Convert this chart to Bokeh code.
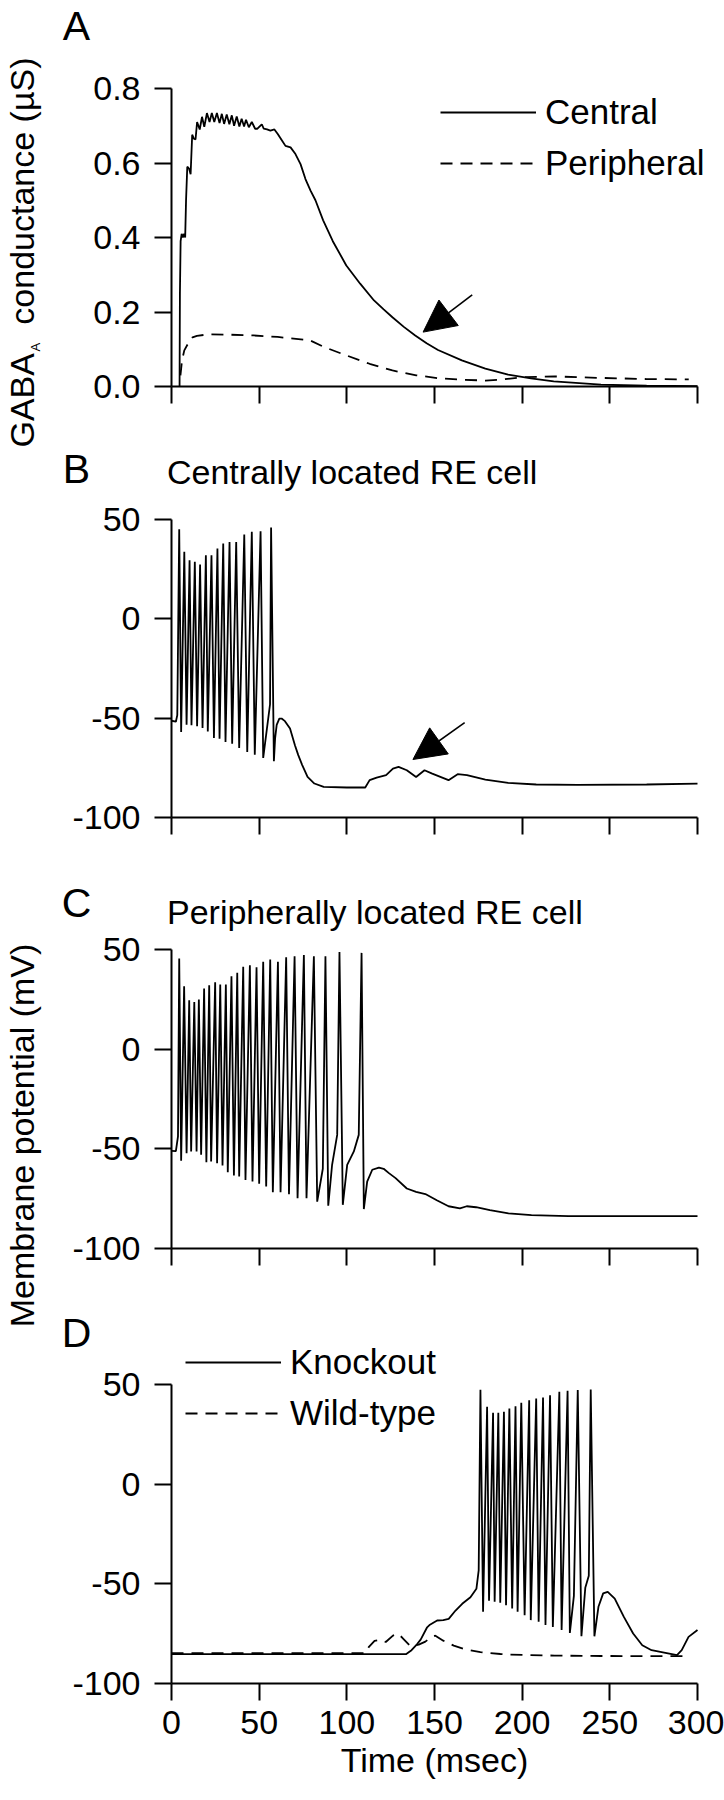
import math
from bokeh.plotting import figure
from bokeh.models import (Range1d, FixedTicker, PrintfTickFormatter, Label, Arrow,
                          NormalHead, Legend, LegendItem)
from bokeh.layouts import column, row
from bokeh.embed import file_html
from bokeh.resources import INLINE

FONT = "Liberation Sans"

# ---------------- data ----------------
time_ticks = [0, 50, 100, 150, 200, 250, 300]
g_ticks = [0.0, 0.2, 0.4, 0.6, 0.8]
v_ticks = [-100, -50, 0, 50]
v_tick_labels = ["-100", "-50", "0", "50"]

# Panel A: GABA_A conductance (uS)
a_central_t = [4.6, 4.8, 5.2, 5.8, 6.5, 7.2, 7.8, 8.3, 9.0, 10.0, 10.9, 11.8, 12.8, 13.7,
               14.6, 16.1, 17.4, 18.7, 20.2, 21.7, 23.0, 24.4, 25.9, 27.4, 28.7, 30.0,
               31.5, 33.0, 34.4, 35.7, 37.2, 38.7, 40.0, 41.4, 42.5, 44.1, 45.8, 47.7,
               49.0, 51.5, 52.6, 54.5, 56.4, 58.7, 60.6, 63.1, 65.0, 67.9, 70.7, 73.6,
               76.4, 79.3, 82.1, 86.5, 92.0, 99.7, 107.6, 115.5, 121.0, 126.0, 132.5,
               139.0, 145.5, 152.0, 165.6, 179.0, 192.0, 205.0, 218.0, 245.0, 271.0, 300.0]
a_central_g = [0.0, 0.25, 0.39, 0.41, 0.40, 0.41, 0.40, 0.50, 0.59, 0.585, 0.57, 0.676,
               0.665, 0.663, 0.71, 0.69, 0.724, 0.697, 0.734, 0.71, 0.734, 0.71, 0.734,
               0.707, 0.732, 0.705, 0.73, 0.704, 0.728, 0.70, 0.725, 0.698, 0.719, 0.698,
               0.716, 0.696, 0.71, 0.692, 0.692, 0.704, 0.692, 0.69, 0.687, 0.69, 0.678,
               0.66, 0.646, 0.642, 0.624, 0.597, 0.557, 0.526, 0.50, 0.446, 0.39, 0.325,
               0.276, 0.231, 0.207, 0.186, 0.16, 0.137, 0.116, 0.098, 0.07, 0.048, 0.032,
               0.022, 0.014, 0.005, 0.002, 0.001]
a_periph_t = [5.1, 6.0, 7.3, 10.0, 12.0, 14.5, 21.0, 34.0, 47.0, 60.5, 71.0, 79.0, 87.0,
              100.0, 113.0, 126.0, 139.6, 152.7, 166.0, 179.0, 187.0, 200.0, 218.5, 245.0,
              271.0, 295.0]
a_periph_g = [0.03, 0.07, 0.097, 0.12, 0.132, 0.136, 0.14, 0.139, 0.137, 0.133, 0.128,
              0.124, 0.106, 0.083, 0.061, 0.043, 0.03, 0.022, 0.018, 0.016, 0.018, 0.025,
              0.027, 0.023, 0.02, 0.019]

# Panel B: centrally located RE cell (mV)
b_pre_t = [0.0, 2.5, 3.3]
b_pre_v = [-51.3, -51.8, -48.5]
b_peak_t = [4.4, 7.3, 10.3, 13.3, 16.3, 19.6, 22.8, 26.2, 29.5, 33.1, 36.9, 41.5, 45.8,
            50.8, 56.8]
b_peak_v = [45.1, 33.7, 29.5, 28.7, 27.4, 32.0, 32.0, 35.4, 37.9, 38.7, 38.7, 42.4, 43.8,
            44.1, 46.0]
b_trough_t = [5.5, 8.6, 11.4, 14.6, 17.7, 20.7, 24.2, 27.4, 30.8, 34.6, 38.6, 43.2, 47.5,
              52.3, 58.4]
b_trough_v = [-56.9, -53.3, -53.6, -54.0, -55.0, -56.7, -60.0, -60.4, -62.0, -62.9, -65.0,
              -67.0, -68.4, -70.0, -71.7]
b_ramp_t = [56.2]
b_ramp_v = [-43.0]
b_post_t = [59.1, 60.0, 61.5, 62.8, 64.7, 67.6, 70.4, 72.3, 74.5, 77.6, 81.5, 86.8, 100.0,
            110.5, 113.0, 117.0, 122.4, 126.3, 129.5, 134.2, 139.5, 144.3, 148.7, 158.0,
            163.2, 168.5, 179.0, 192.0, 208.0, 231.7, 271.0, 300.0]
b_post_v = [-60.0, -53.4, -50.2, -50.2, -51.5, -55.2, -63.6, -68.6, -73.5, -79.6, -82.9,
            -84.6, -84.9, -84.9, -81.2, -79.9, -78.7, -75.4, -74.5, -76.2, -79.6, -76.2,
            -77.9, -81.2, -78.2, -78.7, -80.9, -82.6, -83.4, -83.6, -83.4, -82.9]

# Panel C: peripherally located RE cell (mV)
c_pre_t = [0.0, 2.5, 3.7]
c_pre_v = [-51.0, -51.2, -43.8]
c_peak_t = [4.4, 7.2, 10.1, 13.0, 15.6, 18.6, 21.5, 24.9, 27.8, 31.0, 34.2, 37.5, 40.9,
            44.7, 48.5, 52.3, 56.3, 60.7, 65.4, 70.2, 75.5, 81.2, 87.8, 95.8, 108.4]
c_peak_v = [45.5, 31.6, 24.5, 23.7, 24.9, 30.4, 32.1, 33.6, 32.4, 32.4, 36.6, 38.3, 41.3,
            42.1, 41.1, 43.8, 45.0, 43.8, 46.1, 46.6, 47.2, 46.6, 46.6, 48.8, 48.3]
c_trough_t = [5.5, 8.6, 11.2, 14.3, 16.9, 19.9, 22.6, 26.0, 29.1, 32.1, 35.6, 38.6, 42.2,
              46.2, 50.0, 54.0, 57.8, 62.2, 67.0, 71.9, 77.0, 83.1, 89.4, 97.7, 109.7]
c_trough_v = [-56.0, -52.2, -51.3, -51.3, -53.0, -56.7, -56.4, -57.2, -58.4, -61.7, -63.4,
              -63.9, -65.6, -66.4, -67.5, -68.9, -71.8, -71.8, -72.8, -74.8, -74.8, -76.5,
              -78.5, -78.1, -80.2]
c_ramp_t = [86.3, 91.6, 94.5, 100.2, 104.0, 106.8]
c_ramp_v = [-60.0, -58.0, -43.0, -58.0, -51.3, -43.0]
c_post_t = [111.6, 114.5, 118.3, 121.0, 124.0, 127.8, 134.2, 139.5, 144.8, 151.3, 158.0,
            164.5, 168.4, 173.7, 181.6, 192.2, 205.3, 226.4, 300.0]
c_post_v = [-66.4, -60.5, -59.4, -60.0, -62.2, -64.7, -69.9, -71.6, -72.7, -75.8, -78.8,
            -79.9, -78.8, -79.3, -80.8, -82.4, -83.3, -83.8, -83.8]

# Panel D: knockout vs wild-type (mV)
d_ko_pre_t = [0.0, 133.7, 136.9, 140.1, 142.1, 145.8, 147.4, 151.5, 155.0, 158.1, 162.0,
              165.8, 170.5, 173.9, 175.2]
d_ko_pre_v = [-85.3, -85.3, -83.3, -80.2, -78.0, -71.8, -70.5, -68.4, -68.2, -67.6, -63.4,
              -60.0, -56.7, -52.5, -43.3]
d_ko_peak_t = [176.2, 180.0, 183.4, 186.4, 189.6, 192.7, 196.2, 199.5, 204.0, 208.0, 211.9,
               215.9, 221.2, 225.9, 231.7, 239.1]
d_ko_peak_v = [47.3, 38.8, 35.8, 35.8, 36.3, 38.0, 39.1, 40.8, 42.1, 43.0, 43.5, 44.6, 46.3,
               46.8, 47.2, 47.5]
d_ko_trough_t = [177.7, 181.1, 184.3, 187.5, 190.8, 194.3, 197.4, 201.4, 204.9, 209.4,
                 213.3, 217.5, 222.5, 227.2, 233.8, 241.2]
d_ko_trough_v = [-64.0, -58.5, -59.0, -59.5, -60.7, -62.4, -64.0, -65.7, -68.2, -69.0,
                 -70.7, -71.6, -73.2, -74.6, -76.3, -76.3]
d_ko_ramp_t = [229.5, 236.0, 238.0]
d_ko_ramp_v = [-56.0, -52.0, -46.0]
d_ko_post_t = [243.5, 246.2, 248.8, 252.8, 258.0, 263.3, 268.5, 273.8, 281.7, 288.3, 291.0,
               294.9, 300.0]
d_ko_post_v = [-61.5, -54.8, -54.0, -57.4, -66.6, -74.9, -80.8, -83.3, -84.6, -85.8, -83.3,
               -76.6, -73.2]
d_wt_t = [0.0, 110.5, 112.6, 115.8, 119.5, 122.2, 126.3, 129.0, 131.4, 136.3, 141.0, 144.8,
          148.0, 150.5, 155.0, 161.0, 166.7, 176.2, 187.6, 193.3, 218.5, 244.9, 294.9]
d_wt_v = [-84.8, -84.8, -81.6, -78.6, -78.0, -79.2, -76.0, -75.0, -76.8, -81.3, -80.5,
          -79.0, -76.8, -76.0, -78.5, -81.0, -82.7, -84.3, -85.2, -85.5, -86.0, -86.2, -86.3]

# arrows (data coords of tail and tip)
a_arrow = [171.5, 0.246, 143.5, 0.146]
b_arrow = [167.2, -52.2, 137.7, -70.8]


def trace(*pairs):
    pts = []
    for ts, vs in pairs:
        pts += list(zip(ts, vs))
    pts.sort(key=lambda q: q[0])
    return [q[0] for q in pts], [q[1] for q in pts]


# ---------------- layout geometry (page pixels) ----------------
STRIP_W = 48
PAGE_W = 724
PANEL_W = PAGE_W - STRIP_W
AX_L, AX_R = 171, 697          # pixel position of t=0 and t=300
LINE_W = 1.8
DASH = "12 8"
TICK_FONT = "34px"
LEG_FONT = "35px"
ROW_H, ROW_GAP = 42, 9
SX = (AX_R - AX_L) / 300.0


def make_panel(fig_top, fig_bot, dat_top, dat_bot, y0, y1, ticks, x_labels):
    sy = (dat_bot - dat_top) / (y1 - y0)
    yr = Range1d(y0 - (fig_bot - dat_bot) / sy, y1 + (dat_top - fig_top) / sy)
    xr = Range1d(0 - (AX_L - STRIP_W) / SX, 300 + (PAGE_W - AX_R) / SX)
    p = figure(width=PANEL_W, height=fig_bot - fig_top, x_range=xr, y_range=yr,
               output_backend="svg", toolbar_location=None, min_border=0)
    p.grid.visible = False
    p.outline_line_color = None
    p.background_fill_color = "white"
    p.border_fill_color = "white"
    for ax in (p.xaxis[0], p.yaxis[0]):
        ax.axis_line_width = 2
        ax.axis_line_color = "black"
        ax.major_tick_line_width = 2
        ax.major_tick_line_color = "black"
        ax.major_tick_in = 0
        ax.major_tick_out = 17
        ax.minor_tick_line_color = None
        ax.major_label_text_font = FONT
        ax.major_label_text_font_size = TICK_FONT
        ax.major_label_text_color = "black"
    p.xaxis.fixed_location = y0
    p.xaxis.bounds = (0, 300)
    p.xaxis.ticker = FixedTicker(ticks=time_ticks)
    p.yaxis.fixed_location = 0
    p.yaxis.bounds = (y0, y1)
    p.yaxis.ticker = FixedTicker(ticks=ticks)
    p.yaxis.major_label_standoff = 14
    if x_labels:
        p.xaxis.major_label_standoff = 10
        p.xaxis.axis_label = "Time (msec)"
        p.xaxis.axis_label_text_font = FONT
        p.xaxis.axis_label_text_font_size = TICK_FONT
        p.xaxis.axis_label_text_font_style = "normal"
        p.xaxis.axis_label_text_color = "black"
        p.xaxis.axis_label_standoff = 4
    else:
        p.xaxis.major_label_overrides = {t: "" for t in time_ticks}
        p.xaxis.major_label_text_font_size = "0px"
    return p


def letter(p, txt, y):
    p.add_layout(Label(x=(76 - AX_L) / SX, y=y, text=txt, text_font=FONT,
                       text_font_size="41px", text_align="center",
                       text_baseline="middle", text_color="black"))


def subtitle(p, txt, y):
    p.add_layout(Label(x=(166.5 - AX_L) / SX, y=y, text=txt, text_font=FONT,
                       text_font_size=TICK_FONT, text_align="left",
                       text_baseline="middle", text_color="black"))


def legend(p, fig_bot, items, left_px, first_row_center_px):
    bottom_px = first_row_center_px - ROW_H / 2 + 2 * ROW_H + ROW_GAP
    leg = Legend(items=items, location=(left_px - STRIP_W, fig_bot - bottom_px),
                 glyph_width=96, glyph_height=ROW_H, label_height=ROW_H, spacing=ROW_GAP,
                 padding=0, margin=0, label_standoff=9,
                 border_line_color=None, background_fill_alpha=0,
                 label_text_font=FONT, label_text_font_size=LEG_FONT,
                 label_text_color="black")
    p.add_layout(leg)


def arrow(p, a):
    p.add_layout(Arrow(x_start=a[0], y_start=a[1], x_end=a[2], y_end=a[3],
                       line_width=1.6, line_color="black",
                       end=NormalHead(size=32, fill_color="black", line_color="black",
                                      line_width=1)))


def v_labels(p):
    p.yaxis.major_label_overrides = dict(zip(v_ticks, v_tick_labels))


# ---- Panel A ----
pa = make_panel(0, 440, 88, 386, 0.0, 0.8, g_ticks, False)
pa.yaxis.formatter = PrintfTickFormatter(format="%.1f")
ra1 = pa.line(a_central_t, a_central_g, line_color="black", line_width=LINE_W)
ra2 = pa.line(a_periph_t, a_periph_g, line_color="black", line_width=LINE_W, line_dash=DASH)
letter(pa, "A", 0.8 + (88 - 25) / 372.5)
legend(pa, 440, [LegendItem(label="Central", renderers=[ra1]),
                 LegendItem(label="Peripheral", renderers=[ra2])], 440, 112)
arrow(pa, a_arrow)

# ---- Panel B ----
pb = make_panel(440, 870, 519, 817, -100, 50, v_ticks, False)
v_labels(pb)
bt, bv = trace((b_pre_t, b_pre_v), (b_peak_t, b_peak_v), (b_trough_t, b_trough_v),
               (b_ramp_t, b_ramp_v), (b_post_t, b_post_v))
pb.line(bt, bv, line_color="black", line_width=LINE_W)
letter(pb, "B", 75.2)
subtitle(pb, "Centrally located RE cell", 73.8)
arrow(pb, b_arrow)

# ---- Panel C ----
pc = make_panel(870, 1302, 949, 1248, -100, 50, v_ticks, False)
v_labels(pc)
ct, cv = trace((c_pre_t, c_pre_v), (c_peak_t, c_peak_v), (c_trough_t, c_trough_v),
               (c_ramp_t, c_ramp_v), (c_post_t, c_post_v))
pc.line(ct, cv, line_color="black", line_width=LINE_W)
letter(pc, "C", 73.1)
subtitle(pc, "Peripherally located RE cell", 68.6)

# ---- Panel D ----
pd = make_panel(1302, 1798, 1384, 1683, -100, 50, v_ticks, True)
v_labels(pd)
dt, dv = trace((d_ko_pre_t, d_ko_pre_v), (d_ko_peak_t, d_ko_peak_v),
               (d_ko_trough_t, d_ko_trough_v), (d_ko_ramp_t, d_ko_ramp_v),
               (d_ko_post_t, d_ko_post_v))
rd2 = pd.line(d_wt_t, d_wt_v, line_color="black", line_width=LINE_W, line_dash=DASH)
rd1 = pd.line(dt, dv, line_color="black", line_width=LINE_W)
letter(pd, "D", 75.6)
legend(pd, 1798, [LegendItem(label="Knockout", renderers=[rd1]),
                  LegendItem(label="Wild-type", renderers=[rd2])], 185, 1362)

# ---- left strip with rotated axis titles ----
H = 1798
strip = figure(width=STRIP_W, height=H, x_range=Range1d(0, STRIP_W), y_range=Range1d(H, 0),
               output_backend="svg", toolbar_location=None, min_border=0,
               x_axis_location=None, y_axis_location=None)
strip.grid.visible = False
strip.outline_line_color = None
strip.background_fill_color = "white"
strip.border_fill_color = "white"
rot = math.pi / 2
strip.add_layout(Label(x=21, y=447, text="GABA", angle=rot, text_font=FONT,
                       text_font_size="34px", text_align="left",
                       text_baseline="middle", text_color="black"))
strip.add_layout(Label(x=35, y=351, text="A", angle=rot, text_font=FONT,
                       text_font_size="13px", text_align="left",
                       text_baseline="middle", text_color="black"))
strip.add_layout(Label(x=21, y=57, text="conductance (\u00b5S)", angle=rot, text_font=FONT,
                       text_font_size="34px", text_align="right",
                       text_baseline="middle", text_color="black"))
strip.add_layout(Label(x=21, y=1135, text="Membrane potential (mV)", angle=rot,
                       text_font=FONT, text_font_size="34px", text_align="center",
                       text_baseline="middle", text_color="black"))

layout = row(strip, column(pa, pb, pc, pd, spacing=0), spacing=0)

with open("out.html", "w") as f:
    f.write(file_html(layout, INLINE))
